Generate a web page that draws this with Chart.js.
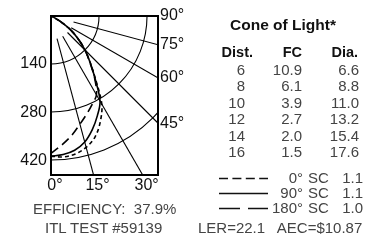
<!DOCTYPE html>
<html>
<head>
<meta charset="utf-8">
<script src="https://cdn.jsdelivr.net/npm/chart.js@4.4.1/dist/chart.umd.min.js"></script>
<style>
  html, body { margin: 0; padding: 0; background: #fff; }
  body { width: 378px; height: 241px; position: relative; overflow: hidden;
         font-family: 'Liberation Sans', Arial, sans-serif; }
  #chart { position: absolute; left: 0; top: 0; }
  .t { position: absolute; white-space: pre; line-height: 16px; font-size: 15px; color: #444; }
  .b { font-weight: bold; color: #111; }
  #legend { position: absolute; left: 0; top: 0; }
</style>
</head>
<body>
<canvas id="chart" width="378" height="241"></canvas>
<svg id="legend" width="378" height="241"></svg>
<div id="side"></div>
<script>

// candela curve, angle from nadir (deg)
const angles = [0, 5, 10, 15, 20, 25, 30, 35, 40, 45, 50, 55, 60, 65, 70, 75, 80, 85, 90];
const cd0   = [408, 412, 408, 396, 375, 340, 296, 228, 178, 140, 103, 68, 30, 8, 2, 0, 0, 0, 0];
const cd90  = [408, 405, 397, 380, 352, 320, 286, 225, 178, 140, 103, 68, 30, 8, 2, 0, 0, 0, 0];
const cd180 = [400, 376, 352, 326, 304, 284, 265, 222, 176, 140, 103, 68, 30, 8, 2, 0, 0, 0, 0];

// grid
const ringValues = [140, 280, 420];
const spokeAngles = [15, 30, 45, 60, 75];
const bottomAngles = [0, 15, 30];
const bottomLabels = ['0°', '15°', '30°'];
const sideAngles = [90, 75, 60, 45];
const sideLabels = ['90°', '75°', '60°', '45°'];

// cone of light table
const dist = ['6', '8', '10', '12', '14', '16'];
const fc   = ['10.9', '6.1', '3.9', '2.7', '2.0', '1.5'];
const dia  = ['6.6', '8.8', '11.0', '13.2', '15.4', '17.6'];

// legend
const planeNames  = ['0°', '90°', '180°'];
const planeSC     = ['1.1', '1.1', '1.0'];

const xMax = 312;
const yMax = 463;
const spokeStart = 68;
const rad = d => d * Math.PI / 180;

function toXY(cd) {
    return angles.map((a, i) => ({ x: cd[i] * Math.sin(rad(a)), y: cd[i] * Math.cos(rad(a)) }));
}

const ink = '#000';

const polarGrid = {
    id: 'polarGrid',
    beforeDatasetsDraw(chart) {
        const { ctx, chartArea: a, scales: { x, y } } = chart;
        const cx = x.getPixelForValue(0);
        const cy = y.getPixelForValue(0);
        ctx.save();
        ctx.beginPath();
        ctx.rect(a.left, a.top, a.width, a.height);
        ctx.clip();
        ctx.strokeStyle = ink;
        ctx.lineWidth = 1.1;
        ringValues.forEach(v => {
            const r = x.getPixelForValue(v) - cx;
            ctx.beginPath();
            ctx.arc(cx, cy, r, 0, Math.PI / 2);
            ctx.stroke();
        });
        spokeAngles.forEach(ang => {
            const s = Math.sin(rad(ang)), c = Math.cos(rad(ang));
            ctx.beginPath();
            ctx.moveTo(x.getPixelForValue(spokeStart * s), y.getPixelForValue(spokeStart * c));
            ctx.lineTo(x.getPixelForValue(900 * s), y.getPixelForValue(900 * c));
            ctx.stroke();
        });
        ctx.restore();
    },
    afterDatasetsDraw(chart) {
        const { ctx, chartArea: a } = chart;
        ctx.save();
        ctx.strokeStyle = ink;
        ctx.lineWidth = 2;
        ctx.strokeRect(a.left, a.top, a.width, a.height);
        ctx.restore();
    }
};

const tickFont = { family: "'Liberation Sans', Arial, sans-serif", size: 16 };

const plane = (cd, dash) => ({
    data: toXY(cd),
    showLine: true,
    borderColor: ink,
    borderWidth: 1.6,
    borderDash: dash,
    pointRadius: 0,
    tension: 0.35,
    fill: false
});

new Chart(document.getElementById('chart'), {
    type: 'scatter',
    data: {
        datasets: [
            plane(cd0, [4, 3]),
            plane(cd90, []),
            plane(cd180, [9, 5])
        ]
    },
    options: {
        responsive: false,
        animation: false,
        layout: { padding: { top: 16, right: 190, bottom: 46, left: 0 } },
        plugins: { legend: { display: false }, tooltip: { enabled: false } },
        scales: {
            x: {
                type: 'linear', min: 0, max: xMax, position: 'bottom',
                grid: { display: false, drawTicks: false }, border: { display: false },
                afterBuildTicks: s => { s.ticks = bottomAngles.map(a => ({ value: yMax * Math.tan(rad(a)) })); },
                afterFit: s => { s.height = 20; },
                ticks: { autoSkip: false, maxRotation: 0, minRotation: 0, padding: 1, labelOffset: 4,
                         color: '#111', font: tickFont, callback: (v, i) => bottomLabels[i] }
            },
            y: {
                type: 'linear', min: 0, max: yMax, reverse: true, position: 'left',
                grid: { display: false, drawTicks: false }, border: { display: false },
                afterBuildTicks: s => { s.ticks = ringValues.map(v => ({ value: v })); },
                afterFit: s => { s.width = 51; },
                ticks: { autoSkip: false, padding: 4, color: '#111', font: tickFont }
            },
            y2: {
                type: 'linear', min: 0, max: yMax, reverse: true, position: 'right',
                grid: { display: false, drawTicks: false }, border: { display: false },
                afterBuildTicks: s => { s.ticks = sideAngles.map(a => ({ value: xMax / Math.tan(rad(a)) })); },
                afterFit: s => { s.width = 30; },
                ticks: { autoSkip: false, padding: 2, color: '#111', font: tickFont,
                         callback: (v, i) => sideLabels[i] }
            }
        }
    },
    plugins: [polarGrid]
});

// text on the right and below
const side = document.getElementById('side');

function label(txt, x, y, align, cls) {
    const el = document.createElement('div');
    el.className = 't' + (cls ? ' ' + cls : '');
    el.textContent = txt;
    el.style.top = (y - 8) + 'px';
    if (align == 'right') {
        el.style.left = (x - 200) + 'px';
        el.style.width = '200px';
        el.style.textAlign = 'right';
    } else if (align == 'center') {
        el.style.left = (x - 100) + 'px';
        el.style.width = '200px';
        el.style.textAlign = 'center';
    } else {
        el.style.left = x + 'px';
    }
    side.appendChild(el);
    return el;
}

label('Cone of Light*', 283, 25, 'center', 'b').style.fontSize = '15.5px';
['Dist.', 'FC', 'Dia.'].forEach((h, i) => {
    label(h, [253, 302, 358][i], 52, 'right', 'b').style.fontSize = '14.5px';
});

dist.forEach((d, i) => {
    const y = 70 + i * 16.4;
    label(d, 245, y, 'right');
    label(fc[i], 302, y, 'right');
    label(dia[i], 359, y, 'right');
});

const legend = document.getElementById('legend');
const dashes = ['9 4.4', '', '21 8'];
const legendY = [178, 193, 208];
planeNames.forEach((p, i) => {
    const ln = document.createElementNS('http://www.w3.org/2000/svg', 'line');
    ln.setAttribute('x1', 219);
    ln.setAttribute('x2', 268);
    ln.setAttribute('y1', legendY[i] + 0.5);
    ln.setAttribute('y2', legendY[i] + 0.5);
    ln.setAttribute('stroke', '#111');
    ln.setAttribute('stroke-width', 1.3);
    if (dashes[i]) ln.setAttribute('stroke-dasharray', dashes[i]);
    legend.appendChild(ln);
    label(p, 303, legendY[i], 'right');
    label('SC', 308, legendY[i], 'left');
    label(planeSC[i], 363, legendY[i], 'right');
});

label('EFFICIENCY:  37.9%', 33, 209, 'left');
label('ITL TEST #59139', 45, 228, 'left');
label('LER=22.1   AEC=$10.87', 198, 228, 'left');

</script>
</body>
</html>
